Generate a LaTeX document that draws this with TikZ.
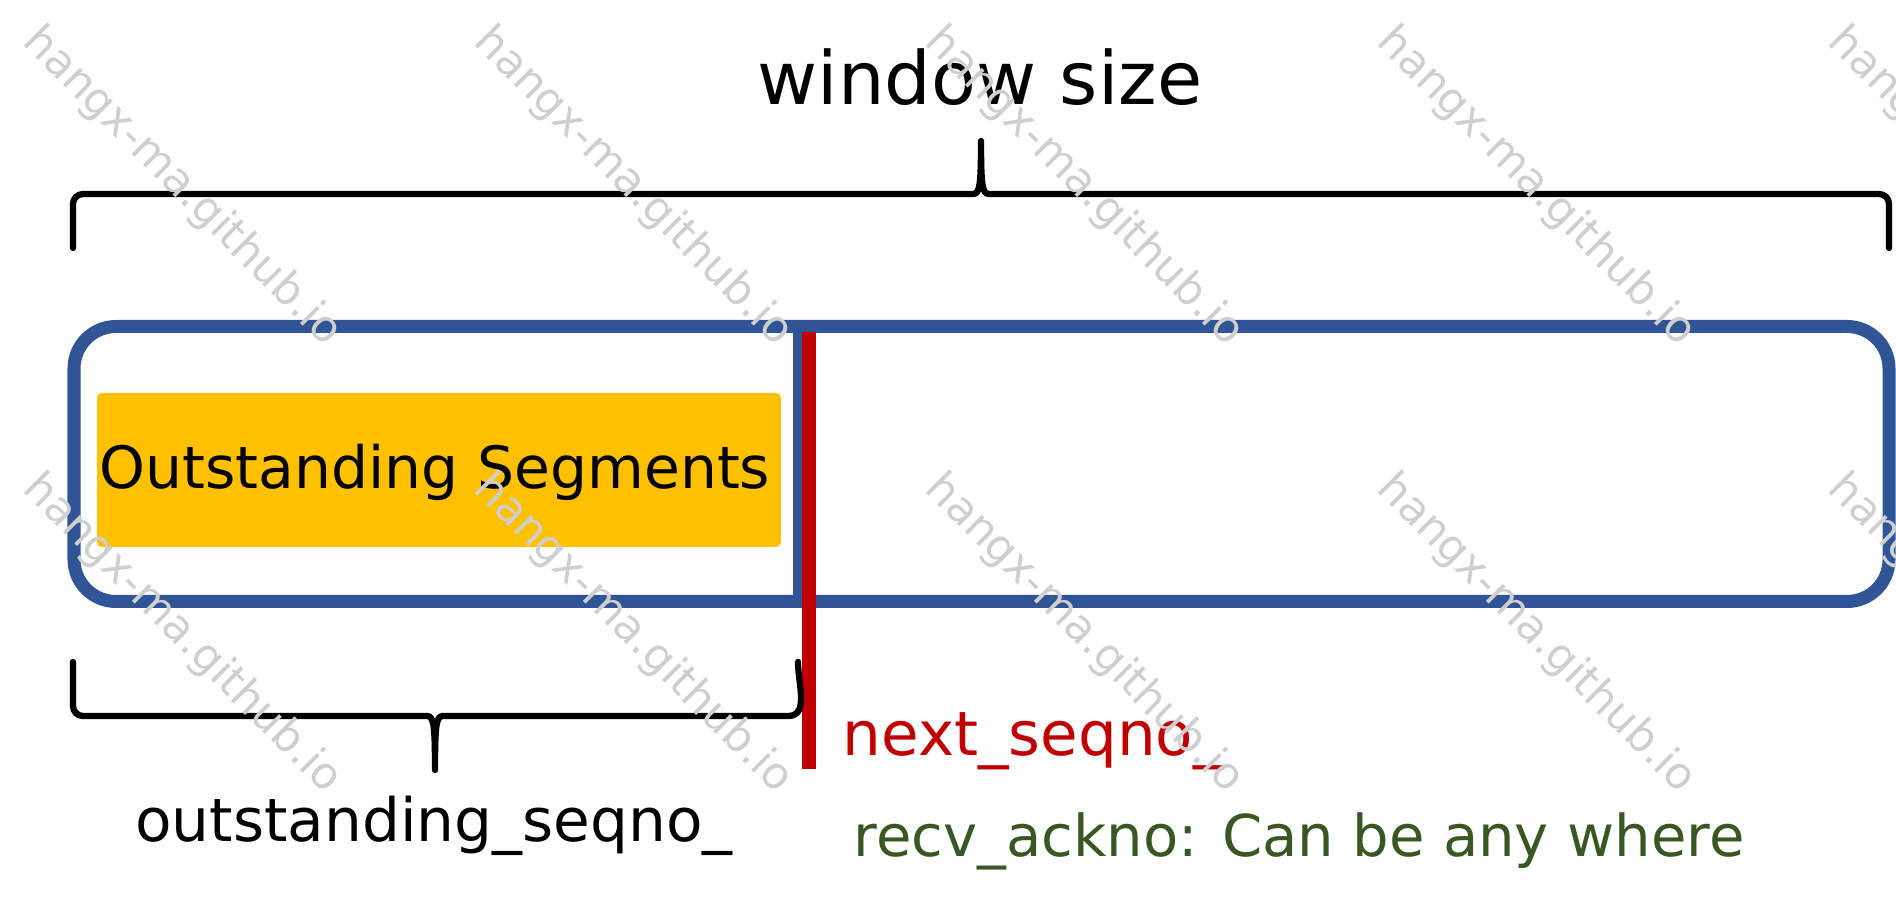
\documentclass[tikz,border=0pt]{standalone}
\usepackage{fontspec}
\setmainfont{DejaVu Sans}

\definecolor{frameblue}{HTML}{2F5597}
\definecolor{seqred}{HTML}{C00000}
\definecolor{segorange}{HTML}{FFC000}
\definecolor{ackgreen}{HTML}{385723}

\begin{document}
\begin{tikzpicture}[
    line cap=round,
    line join=round,
    frameline/.style={draw=frameblue,line width=3.7pt,rounded corners=0.42cm},
    divider/.style={draw=frameblue,line width=2.6pt,line cap=butt},
    seqline/.style={draw=seqred,line width=4pt,line cap=butt},
    bracepath/.style={line width=1.8pt},
    segbox/.style={fill=segorange,rounded corners=0.05cm,inner sep=0pt},
    txt/.style={inner sep=0pt,anchor=base},
    wmark/.style={text=gray!38,font=\fontsize{12.5}{15}\selectfont,rotate=-45}
]

\useasboundingbox (0,0) rectangle (18.96,9.12);
\clip (0,0) rectangle (18.96,9.12);

% -------------------------------------------------
% Окно: рамка, граница, текущий номер
% -------------------------------------------------

\coordinate (W1) at (0.74,3.105);    % нижний левый угол рамки
\coordinate (W2) at (18.89,5.855);   % верхний правый угол рамки
\coordinate (D1) at (7.975,3.105);   % граница отправленных
\coordinate (D2) at (7.975,5.855);
\coordinate (N1) at (8.09,5.80);     % next_seqno_ сверху
\coordinate (N2) at (8.09,1.43);     % next_seqno_ снизу

\node[segbox,minimum width=6.84cm,minimum height=1.54cm] (seg) at (4.39,4.42) {};
\node[txt,font=\fontsize{16.6}{20}\selectfont] (segtext) at (4.35,4.23) {Outstanding Segments};

\draw[frameline] (W1) rectangle (W2);
\draw[divider] (D1) -- (D2);
\draw[seqline] (N1) -- (N2);

% -------------------------------------------------
% Верхняя скобка: размер окна
% -------------------------------------------------

\coordinate (TL) at (0.73,6.64);    % левый конец
\coordinate (TR) at (18.89,6.64);   % правый конец
\coordinate (TT) at (9.81,7.71);    % остриё

\draw[bracepath] (TL) -- (0.73,7.08) to[out=90,in=180] (0.83,7.18)
    -- (9.73,7.18) .. controls (9.80,7.18) and (9.81,7.28) .. (TT)
    .. controls (9.81,7.28) and (9.82,7.18) .. (9.89,7.18)
    -- (18.79,7.18) to[out=0,in=90] (18.89,7.08) -- (TR);

\node[txt,font=\fontsize{20.9}{25}\selectfont] (title) at (9.80,8.07) {window size};

% -------------------------------------------------
% Нижняя скобка: неподтверждённые сегменты
% -------------------------------------------------

\coordinate (BL) at (0.73,2.50);    % левый конец
\coordinate (BR) at (7.98,2.50);    % правый конец
\coordinate (BT) at (4.35,1.42);    % остриё

\draw[bracepath] (BL) -- (0.73,2.06) to[out=-90,in=180] (0.83,1.96)
    -- (4.27,1.96) .. controls (4.34,1.96) and (4.35,1.86) .. (BT)
    .. controls (4.35,1.86) and (4.36,1.96) .. (4.43,1.96)
    -- (7.88,1.96) to[out=0,in=-90] (BR);

\node[txt,font=\fontsize{17}{20}\selectfont] (outst) at (4.34,0.70) {outstanding\_seqno\_};

% -------------------------------------------------
% Подписи справа
% -------------------------------------------------

\node[txt,anchor=base west,text=seqred,font=\fontsize{17.4}{21}\selectfont] (nextlbl) at (8.42,1.56) {next\_seqno\_};
\node[txt,anchor=base west,text=ackgreen,font=\fontsize{16.4}{20}\selectfont] (acklbl) at (8.53,0.55) {recv\_ackno: Can be any where};

% -------------------------------------------------
% Водяные знаки
% -------------------------------------------------

\foreach \wx [count=\ci] in {1.82,6.33,10.84,15.36,19.87}
  \foreach \wy [count=\ri] in {7.25,2.78}
    \node[wmark] (wm\ci\ri) at (\wx,\wy) {hangx-ma.github.io};

\end{tikzpicture}
\end{document}
